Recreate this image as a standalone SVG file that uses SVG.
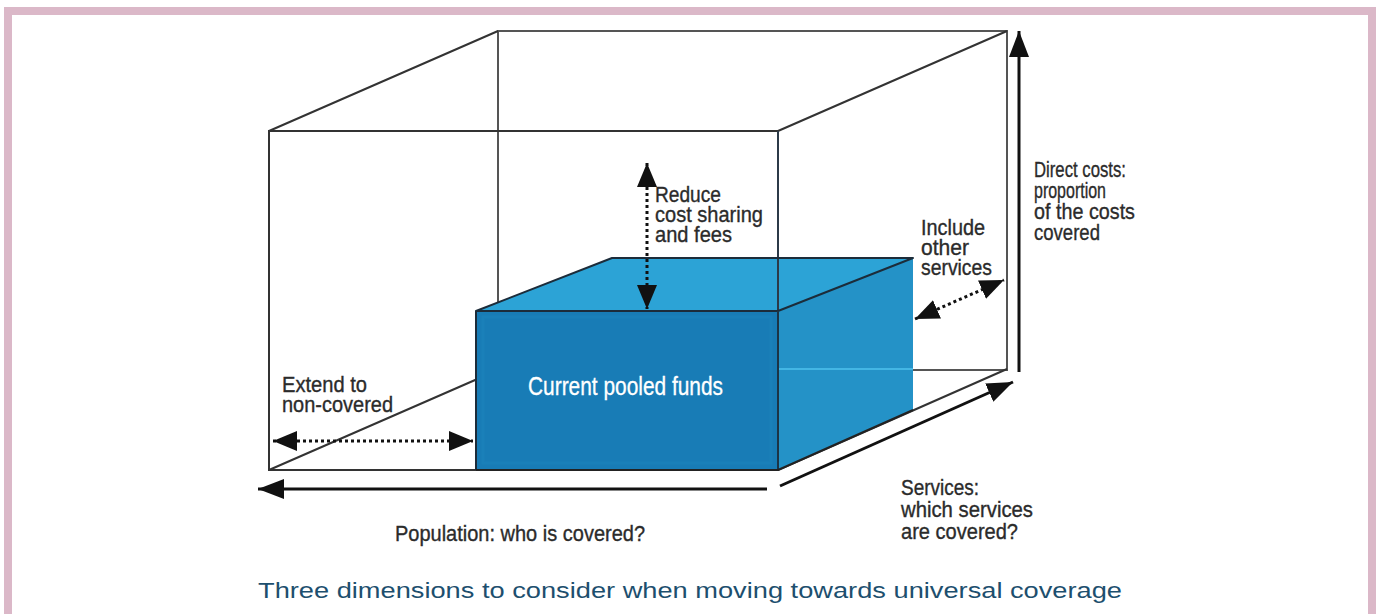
<svg xmlns="http://www.w3.org/2000/svg" width="1378" height="614" viewBox="0 0 1378 614">
  <style>
    .edge { stroke: #333; stroke-width: 2; fill: none; }
    .back { stroke: #555; stroke-width: 2; fill: none; }
    .solid { stroke: #111; stroke-width: 3; fill: none; }
    .dotted { stroke: #111; stroke-width: 3; stroke-dasharray: 3 3; fill: none; }
    .lbl { font-family: "Liberation Sans Narrow", "Liberation Sans", Arial, sans-serif; font-size: 22px; fill: #2b2b2b; stroke: #2b2b2b; stroke-width: 0.35; }
    .inbox { font-family: "Liberation Sans Narrow", "Liberation Sans", Arial, sans-serif; font-size: 25px; fill: #ffffff; stroke: #ffffff; stroke-width: 0.3; }
    .cap { font-family: "Liberation Sans", Arial, sans-serif; font-size: 22px; fill: #1d4f6e; }
  </style>
  <defs>
    <marker id="head" viewBox="0 0 26 20" markerWidth="26" markerHeight="20" refX="26" refY="10" markerUnits="userSpaceOnUse" orient="auto-start-reverse">
      <path d="M0,0 L26,10 L0,20 z" fill="#111"/>
    </marker>
    <marker id="dhead" viewBox="0 0 24 20" markerWidth="24" markerHeight="20" refX="24" refY="10" markerUnits="userSpaceOnUse" orient="auto-start-reverse">
      <path d="M0,0 L24,10 L0,20 z" fill="#111"/>
    </marker>
  </defs>

  <rect x="0" y="0" width="1378" height="614" fill="#ffffff"/>
  <g id="frame" fill="#dbb8c8">
    <rect x="4" y="7" width="8" height="607"/>
    <rect x="4" y="7" width="1372" height="8"/>
    <rect x="1368" y="7" width="8" height="607"/>
  </g>

  <g id="cube">
    <path class="back" d="M498,31 H1007 V370 H498 Z"/>
    <path class="edge" d="M269,131 H778 V470 H269 Z"/>
    <path class="edge" d="M269,131 L498,31 M778,131 L1007,31 M269,470 L498,370 M778,470 L1007,369"/>
  </g>

  <g id="pooled-funds">
    <polygon points="476,311 612,258 913,258 778,311" fill="#2ca3d6"/>
    <polygon points="778,311 913,258 913,410 778,470" fill="#2492c7"/>
    <rect x="476" y="311" width="302" height="159" fill="#187cb6"/>
    <rect x="483" y="317" width="288" height="146" fill="none" stroke="#1c84bc" stroke-width="3" opacity="0.5"/>
    <line x1="778" y1="369" x2="913" y2="369" stroke="#43b6e4" stroke-width="2"/>
    <line x1="778" y1="131" x2="778" y2="311" stroke="#2c3a48" stroke-width="2"/>
    <polygon points="476,311 612,258 913,258 778,311" fill="none" stroke="#1c2c3a" stroke-width="2" stroke-linejoin="round"/>
    <line x1="476" y1="311" x2="476" y2="470" stroke="#1c2c3a" stroke-width="2"/>
    <line x1="778" y1="311" x2="778" y2="470" stroke="#1c3446" stroke-width="2"/>
    <line x1="476" y1="470" x2="778" y2="470" stroke="#222" stroke-width="2"/>
    <line x1="778" y1="470" x2="913" y2="410" stroke="#222" stroke-width="2"/>
    <text class="inbox" x="528" y="395" textLength="195" lengthAdjust="spacingAndGlyphs">Current pooled funds</text>
  </g>

  <g id="connectors">
    <line class="solid" x1="767" y1="489" x2="258" y2="489" marker-end="url(#head)"/>
    <line class="solid" x1="1019" y1="372" x2="1019" y2="31" marker-end="url(#head)"/>
    <line class="solid" x1="780" y1="486" x2="1013" y2="382" marker-end="url(#head)"/>
    <line class="dotted" x1="647" y1="163" x2="647" y2="309" marker-start="url(#dhead)" marker-end="url(#dhead)"/>
    <line class="dotted" x1="915" y1="319" x2="1004" y2="280" marker-start="url(#dhead)" marker-end="url(#dhead)"/>
    <line class="dotted" x1="273" y1="441" x2="473" y2="441" marker-start="url(#dhead)" marker-end="url(#dhead)"/>
  </g>

  <g id="label-reduce">
    <text class="lbl" x="655" y="202" textLength="66" lengthAdjust="spacingAndGlyphs">Reduce</text>
    <text class="lbl" x="655" y="222" textLength="108" lengthAdjust="spacingAndGlyphs">cost sharing</text>
    <text class="lbl" x="655" y="242" textLength="77" lengthAdjust="spacingAndGlyphs">and fees</text>
  </g>
  <g id="label-include">
    <text class="lbl" x="921" y="235" textLength="64" lengthAdjust="spacingAndGlyphs">Include</text>
    <text class="lbl" x="921" y="255" textLength="48" lengthAdjust="spacingAndGlyphs">other</text>
    <text class="lbl" x="921" y="275" textLength="71" lengthAdjust="spacingAndGlyphs">services</text>
  </g>
  <g id="label-direct">
    <text class="lbl" x="1034" y="177" textLength="92" lengthAdjust="spacingAndGlyphs">Direct costs:</text>
    <text class="lbl" x="1034" y="198" textLength="72" lengthAdjust="spacingAndGlyphs">proportion</text>
    <text class="lbl" x="1034" y="219" textLength="101" lengthAdjust="spacingAndGlyphs">of the costs</text>
    <text class="lbl" x="1034" y="240" textLength="66" lengthAdjust="spacingAndGlyphs">covered</text>
  </g>
  <g id="label-extend">
    <text class="lbl" x="282" y="392" textLength="85" lengthAdjust="spacingAndGlyphs">Extend to</text>
    <text class="lbl" x="282" y="412" textLength="111" lengthAdjust="spacingAndGlyphs">non-covered</text>
  </g>
  <g id="label-population">
    <text class="lbl" x="395" y="541" textLength="250" lengthAdjust="spacingAndGlyphs">Population: who is covered?</text>
  </g>
  <g id="label-services">
    <text class="lbl" x="901" y="495" textLength="78" lengthAdjust="spacingAndGlyphs">Services:</text>
    <text class="lbl" x="901" y="517" textLength="132" lengthAdjust="spacingAndGlyphs">which services</text>
    <text class="lbl" x="901" y="539" textLength="117" lengthAdjust="spacingAndGlyphs">are covered?</text>
  </g>
  <g id="caption">
    <text class="cap" x="258" y="598" textLength="864" lengthAdjust="spacingAndGlyphs">Three dimensions to consider when moving towards universal coverage</text>
  </g>
</svg>
